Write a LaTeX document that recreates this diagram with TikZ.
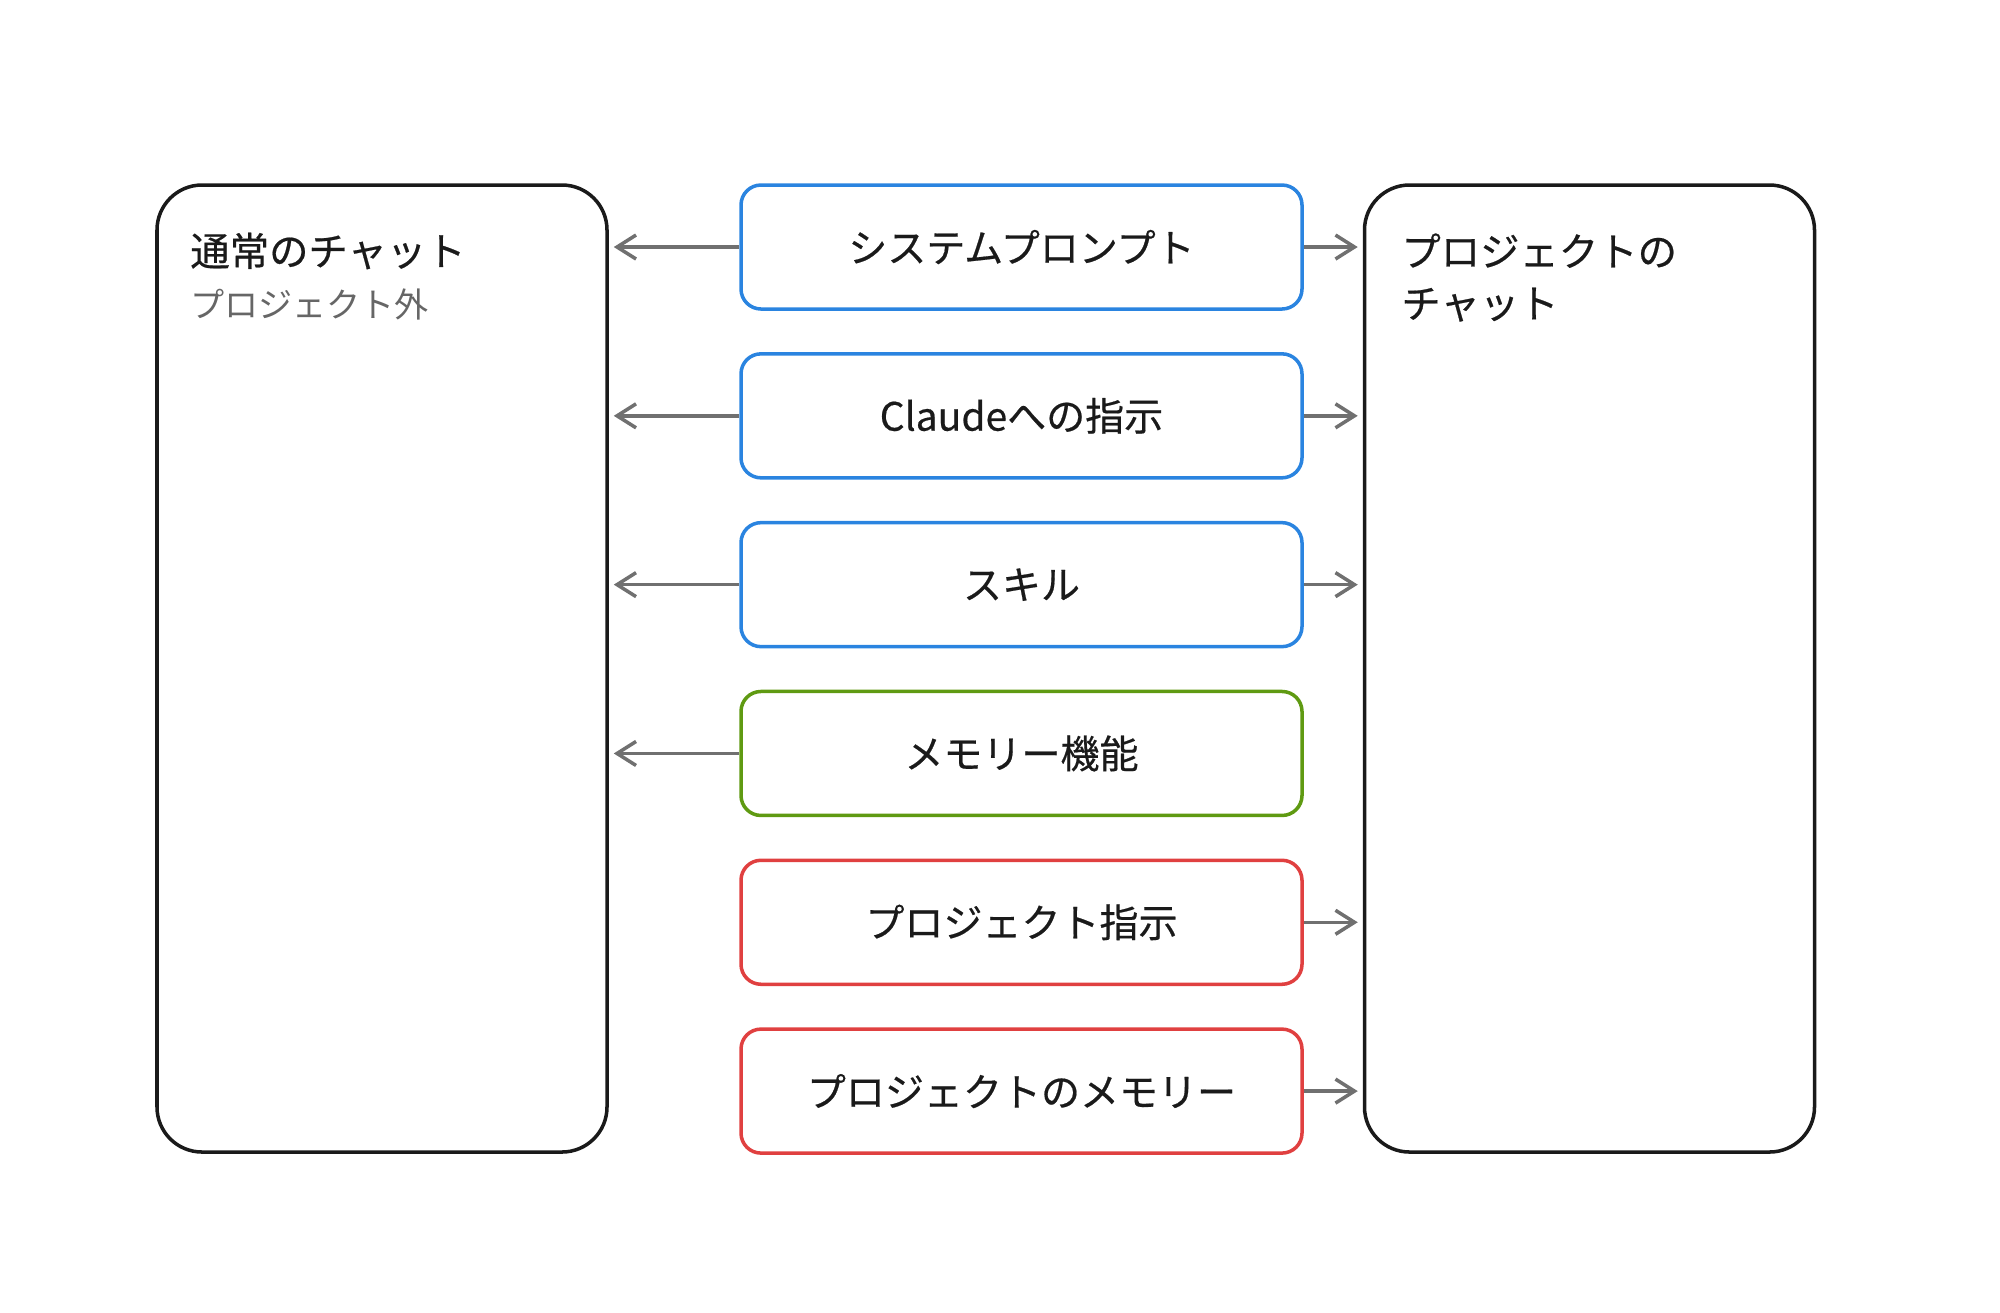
\documentclass[tikz,border=0pt]{standalone}
\usepackage{fontspec}
\setmainfont{Noto Sans CJK JP}
\newfontfamily\medfont[FakeBold=0.5]{Noto Sans CJK JP}
\usepackage{tikz}
\usetikzlibrary{arrows.meta,positioning}
\definecolor{ink}{HTML}{1A1A1A}
\definecolor{sub}{HTML}{666666}
\definecolor{arr}{HTML}{707070}
\definecolor{cblue}{HTML}{2A84E0}
\definecolor{cgreen}{HTML}{5F9A12}
\definecolor{cred}{HTML}{E04040}
\tikzset{item/.style={draw,line width=1pt,rounded corners=0.2cm,minimum width=5.61cm,minimum height=1.24cm,text=ink,font=\medfont\fontsize{11.1}{13}\selectfont},
  panel/.style={draw=ink,line width=1pt,rounded corners=0.45cm,minimum width=4.5cm,minimum height=9.67cm},
  conn/.style={arr,line width=1pt,-{Straight Barb[length=1.9mm,width=2.4mm]},shorten >=0.5mm}}

\begin{document}
\begin{tikzpicture}[line join=round,text=ink]
\useasboundingbox (0,0) rectangle (20,-13.12);
% --- side panels
\node[panel] (normal) at (3.82,-6.685) {};
\node[panel] (proj) at (15.895,-6.685) {};
\node[anchor=west,font=\medfont\fontsize{11.2}{13}\selectfont] (normalT) at (1.78,-2.51) {通常のチャット};
\node[anchor=west,text=sub,font=\fontsize{9.7}{12}\selectfont] (normalS) at (1.78,-3.04) {プロジェクト外};
\node[anchor=north west,align=left,font=\medfont\fontsize{11.2}{14.8}\selectfont] (projT) at (13.89,-2.21) {プロジェクトの\\チャット};
% --- middle column
\node[item,draw=cblue] (sys) at (10.215,-2.47) {システムプロンプト};
\node[item,draw=cblue,below=0.413cm of sys] (inst) {Claudeへの指示};
\node[item,draw=cblue,below=0.413cm of inst] (skill) {スキル};
\node[item,draw=cgreen,below=0.413cm of skill] (mem) {メモリー機能};
\node[item,draw=cred,below=0.413cm of mem] (pinst) {プロジェクト指示};
\node[item,draw=cred,below=0.413cm of pinst] (pmem) {プロジェクトのメモリー};
% --- connectors
\draw[conn] (sys.west) -- (sys.west -| normal.east);
\draw[conn] (inst.west) -- (inst.west -| normal.east);
\draw[conn] (skill.west) -- (skill.west -| normal.east);
\draw[conn] (mem.west) -- (mem.west -| normal.east);
\draw[conn] (sys.east) -- (sys.east -| proj.west);
\draw[conn] (inst.east) -- (inst.east -| proj.west);
\draw[conn] (skill.east) -- (skill.east -| proj.west);
\draw[conn] (pinst.east) -- (pinst.east -| proj.west);
\draw[conn] (pmem.east) -- (pmem.east -| proj.west);
\end{tikzpicture}
\end{document}
